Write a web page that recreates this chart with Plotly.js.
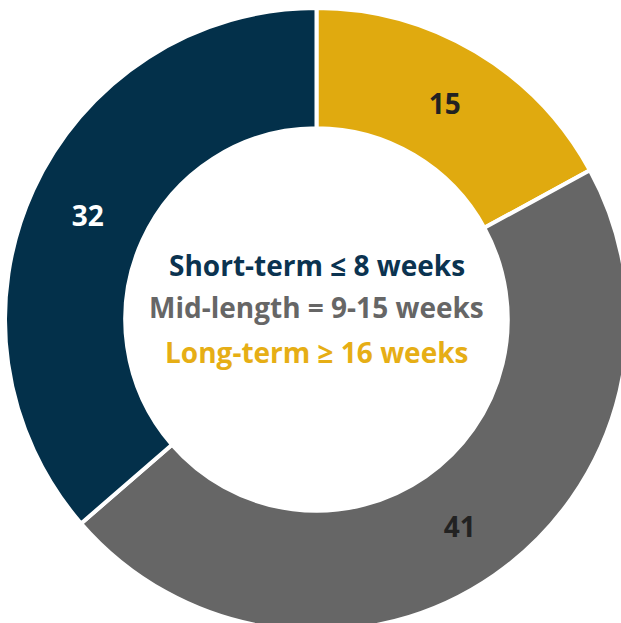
<!DOCTYPE html>
<html>
<head>
<meta charset="utf-8">
<script src="https://cdn.plot.ly/plotly-3.0.1.min.js"></script>
<style>
html,body{margin:0;padding:0;background:#fff;overflow:hidden;width:621px;height:623px;}
#chart{position:absolute;left:5px;top:8px;width:623px;height:623px;}
</style>
</head>
<body>
<div id="chart"></div>
<script>
const categories = ["Long-term ≥ 16 weeks", "Mid-length = 9-15 weeks", "Short-term ≤ 8 weeks"];
const values = [15, 41, 32];
const sliceColors = ["#e0aa0f", "#666666", "#03304a"];
const labelColors = ["#222222", "#222222", "#ffffff"];
const centerLines = ["Short-term ≤ 8 weeks", "Mid-length = 9-15 weeks", "Long-term ≥ 16 weeks"];
const centerColors = ["#0b3350", "#666666", "#e6ae15"];

const trace = {
  type: "pie",
  labels: categories,
  values: values,
  hole: 0.614,
  sort: false,
  direction: "clockwise",
  rotation: 0,
  marker: {colors: sliceColors, line: {color: "#ffffff", width: 4}},
  textinfo: "value",
  textposition: "inside",
  insidetextorientation: "horizontal",
  textfont: {family: "Open Sans", size: 28, weight: "bold", color: labelColors},
  hoverinfo: "none",
  domain: {x: [0, 1], y: [0, 1]}
};

const ys = [0.5875, 0.52, 0.448];
const annotations = centerLines.map((t, i) => ({
  text: "<b>" + t + "</b>",
  xref: "paper", yref: "paper",
  x: 0.5, y: ys[i],
  xanchor: "center", yanchor: "middle",
  showarrow: false,
  font: {family: "Open Sans", size: 28, color: centerColors[i]}
}));

Plotly.newPlot("chart", [trace], {
  width: 623, height: 623,
  margin: {l: 0, r: 0, t: 0, b: 0},
  showlegend: false,
  paper_bgcolor: "#ffffff",
  annotations: annotations
}, {staticPlot: true});
</script>
</body>
</html>
